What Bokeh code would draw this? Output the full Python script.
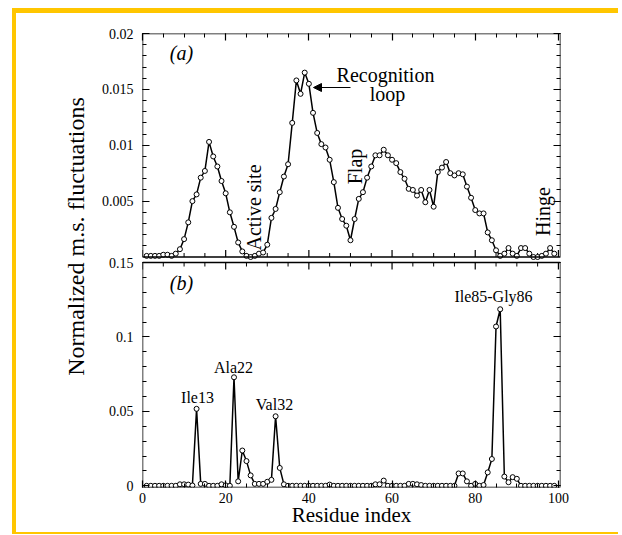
import math
from bokeh.plotting import figure
from bokeh.models import (Range1d, LinearAxis, FixedTicker, BoxAnnotation, Label,
                          Arrow, NormalHead)
from bokeh.embed import file_html
from bokeh.resources import INLINE

# ---------------- data ----------------
residues = list(range(1, 100))

fluct_a = [0.0001, 0.0001, 0.0001, 0.0001, 0.0002, 0.0002, 0.0001, 0.0003, 0.0007, 0.0016,
           0.0031, 0.0050, 0.0056, 0.0071, 0.0077, 0.0103, 0.0090, 0.0081, 0.0068, 0.0057,
           0.0040, 0.0027, 0.0013, 0.0005, 0.0001, 0.0000, 0.0001, 0.0003, 0.0004, 0.0011,
           0.0035, 0.0043, 0.0058, 0.0072, 0.0083, 0.0120, 0.0158, 0.0146, 0.0165, 0.0155,
           0.0129, 0.0111, 0.0101, 0.0098, 0.0087, 0.0067, 0.0044, 0.0034, 0.0028, 0.0015,
           0.0034, 0.0052, 0.0058, 0.0071, 0.0081, 0.0091, 0.0091, 0.0096, 0.0091, 0.0087,
           0.0084, 0.0076, 0.0070, 0.0061, 0.0060, 0.0055, 0.0060, 0.0049, 0.0060, 0.0045,
           0.0076, 0.0080, 0.0085, 0.0075, 0.0073, 0.0075, 0.0074, 0.0063, 0.0053, 0.0042,
           0.0039, 0.0039, 0.0022, 0.0015, 0.0006, 0.0001, 0.0003, 0.0008, 0.0003, 0.0001,
           0.0008, 0.0008, 0.0003, 0.0000, 0.0000, 0.0001, 0.0003, 0.0008, 0.0003]

fluct_b = [0.0, 0.0, 0.0, 0.0, 0.0, 0.0, 0.0, 0.0, 0.0010, 0.0010,
           0.0008, 0.0002, 0.0517, 0.0013, 0.0013, 0.0, 0.0, 0.0, 0.0010, 0.0003,
           0.0, 0.0729, 0.0030, 0.0237, 0.0166, 0.0070, 0.0013, 0.0013, 0.0013, 0.0027,
           0.0040, 0.0467, 0.0120, 0.0010, 0.0, 0.0, 0.0, 0.0, 0.0, 0.0,
           0.0, 0.0, 0.0, 0.0, 0.0008, 0.0, 0.0, 0.0, 0.0, 0.0,
           0.0, 0.0, 0.0, 0.0, 0.0, 0.0010, 0.0010, 0.0035, 0.0, 0.0,
           0.0, 0.0, 0.0, 0.0013, 0.0013, 0.0010, 0.0005, 0.0, 0.0, 0.0,
           0.0, 0.0, 0.0, 0.0, 0.0, 0.0083, 0.0083, 0.0030, 0.0, 0.0013,
           0.0, 0.0005, 0.0090, 0.0180, 0.1070, 0.1186, 0.0062, 0.0024, 0.0058, 0.0047,
           0.0, 0.0, 0.0, 0.0, 0.0, 0.0, 0.0, 0.0, 0.0]

x_major = [0, 20, 40, 60, 80, 100]
x_minor = [v for v in range(0, 101, 5)]
a_ticks = [0.005, 0.01, 0.015, 0.02]
a_tick_labels = ["0.005", "0.01", "0.015", "0.02"]
a_minor = [round(0.001 * i, 4) for i in range(1, 21)]
b_ticks = [0.0, 0.05, 0.1, 0.15]
b_tick_labels = ["0", "0.05", "0.1", "0.15"]
b_minor = [round(0.01 * i, 3) for i in range(0, 16)]

# -------------- layout (page pixel geometry; figure sits at 0,0) --------------
YEL = "#FFC600"
W, H = 618, 534
FL, FR, FT, FB = 142, 560, 33, 487
X0, X1 = 0.0, 100.5
xs = (FR - FL) / (X1 - X0)


def yrange(v0, p0, v1, p1):
    s = (p0 - p1) / (v1 - v0)
    return v0 - (FB - p0) / s, v1 + (p1 - FT) / s, s


a_start, a_end, a_s = yrange(0.0, 256.5, 0.02, 33.0)
b_start, b_end, b_s = yrange(0.0, 485.3, 0.15, 262.0)


def xd(px):
    return X0 + (px - FL) / xs


def ya(py):
    return a_start + (FB - py) / a_s


def yb(py):
    return b_start + (FB - py) / b_s


def a_to_b(v):
    return b_start + (v - a_start) / (a_end - a_start) * (b_end - b_start)


SERIF = "Liberation Serif"


def band(x, y, w, h):
    return f"linear-gradient({YEL},{YEL}) {x}px {y}px / {w}px {h}px no-repeat"


# yellow frame (top, left, bottom) painted as the figure's CSS background
frame_bg = ", ".join([band(12, 8, W - 12, 5), band(12, 8, 4, 526),
                      band(12, 532, W - 12, 2)]) + ", white"

p = figure(width=W, height=H, x_range=Range1d(X0, X1), y_range=Range1d(b_start, b_end),
           output_backend="svg", toolbar_location=None,
           x_axis_location=None, y_axis_location=None,
           min_border_left=FL, min_border_right=W - FR,
           min_border_top=FT, min_border_bottom=H - FB,
           styles={"background": frame_bg})
p.extra_y_ranges = {"a": Range1d(a_start, a_end)}
p.grid.visible = False
p.outline_line_color = None
p.background_fill_color = "white"
p.border_fill_color = None

# y ticks (both panels on one axis)
y_major = b_ticks + [a_to_b(v) for v in a_ticks]
y_minor = b_minor + [a_to_b(v) for v in a_minor]
overrides = {}
for v, t in zip(b_ticks, b_tick_labels):
    overrides[v] = t
for v, t in zip(a_ticks, a_tick_labels):
    overrides[a_to_b(v)] = t


def style_axis(ax, labels=True, size="14px"):
    ax.axis_line_color = None
    ax.major_tick_in = 7
    ax.major_tick_out = 0
    ax.minor_tick_in = 4
    ax.minor_tick_out = 0
    ax.major_tick_line_color = "black"
    ax.minor_tick_line_color = "black"
    ax.major_tick_line_width = 1.2
    ax.minor_tick_line_width = 1
    ax.major_label_text_font = SERIF
    ax.major_label_text_font_size = size
    ax.major_label_text_color = "black" if labels else None
    ax.axis_label_text_font = SERIF
    ax.axis_label_text_font_style = "normal"
    ax.axis_label_text_font_size = "21px"
    ax.axis_label_text_color = "black"
    if not labels:
        ax.major_label_text_font_size = "1px"
        ax.major_label_standoff = 0


left = LinearAxis(ticker=FixedTicker(ticks=y_major, minor_ticks=y_minor))
left.major_label_overrides = overrides
style_axis(left)
left.major_label_standoff = 9
# leading no-break spaces lift the centred label to the reference position
left.axis_label = "\u00a0" * 8 + "Normalized m.s. fluctuations"
left.axis_label_text_font_size = "24px"
left.axis_label_standoff = 10
p.add_layout(left, "left")

right = LinearAxis(ticker=FixedTicker(ticks=y_major, minor_ticks=y_minor))
style_axis(right, labels=False)
p.add_layout(right, "right")

below = LinearAxis(ticker=FixedTicker(ticks=x_major, minor_ticks=x_minor))
style_axis(below)
below.major_label_standoff = 5
below.axis_label = "Residue index"
below.axis_label_standoff = -3
p.add_layout(below, "below")

above = LinearAxis(ticker=FixedTicker(ticks=x_major, minor_ticks=x_minor))
style_axis(above, labels=False)
p.add_layout(above, "above")

# inner ticks on panel (a) bottom and panel (b) top
x_minor_only = [v for v in x_minor if v not in x_major]
p.ray(x=x_major, y=[0.0] * len(x_major), length=7, angle=math.pi / 2,
      length_units="screen", y_range_name="a", line_color="black", line_width=1.2)
p.ray(x=x_minor_only, y=[0.0] * len(x_minor_only), length=4, angle=math.pi / 2,
      length_units="screen", y_range_name="a", line_color="black", line_width=1)
p.ray(x=x_major, y=[0.15] * len(x_major), length=7, angle=-math.pi / 2,
      length_units="screen", line_color="black", line_width=1.2)
p.ray(x=x_minor_only, y=[0.15] * len(x_minor_only), length=4, angle=-math.pi / 2,
      length_units="screen", line_color="black", line_width=1)

# panel frames
p.add_layout(BoxAnnotation(left=X0, right=X1, bottom=0.0, top=0.02, y_range_name="a",
                           fill_color=None, fill_alpha=0, line_color="black",
                           line_width=1.5, line_alpha=1))
p.add_layout(BoxAnnotation(left=X0, right=X1, bottom=b_start, top=0.15,
                           fill_color=None, fill_alpha=0, line_color="black",
                           line_width=1.5, line_alpha=1))

# data
p.line(residues, fluct_a, y_range_name="a", line_color="black", line_width=1.5)
p.scatter(residues, fluct_a, y_range_name="a", marker="circle", size=5,
          fill_color="white", line_color="black", line_width=1)
p.line(residues, fluct_b, line_color="black", line_width=1.5)
p.scatter(residues, fluct_b, marker="circle", size=5,
          fill_color="white", line_color="black", line_width=1)


def lab(text, px, py, rng="b", size="20px", angle=0.0, style="normal"):
    if rng == "a":
        lb = Label(x=xd(px), y=ya(py), y_range_name="a", text=text)
    else:
        lb = Label(x=xd(px), y=yb(py), text=text)
    lb.text_font = SERIF
    lb.text_font_size = size
    lb.text_align = "center"
    lb.text_baseline = "middle"
    lb.angle = angle
    lb.text_font_style = style
    lb.text_color = "black"
    p.add_layout(lb)


lab("(a)", 181, 52, "a", "20px", style="italic")
lab("(b)", 181, 282, "b", "20px", style="italic")
lab("Active site", 253, 207, "a", "20px", angle=math.pi / 2)
lab("Recognition", 385, 74, "a", "20px")
lab("loop", 387, 93, "a", "20px")
lab("Flap", 354, 166, "a", "20px", angle=math.pi / 2)
lab("Hinge", 542, 211, "a", "20px", angle=math.pi / 2)
lab("Ile13", 197, 397, "b", "16px")
lab("Ala22", 233, 367, "b", "16px")
lab("Val32", 274, 404, "b", "16px")
lab("Ile85-Gly86", 493, 296, "b", "16px")

p.add_layout(Arrow(x_start=xd(350), y_start=ya(87), x_end=xd(313), y_end=ya(87),
                   y_range_name="a", line_color="black", line_width=1,
                   end=NormalHead(size=8, fill_color="black", line_color="black")))

open("out.html", "w").write(file_html(p, INLINE))
